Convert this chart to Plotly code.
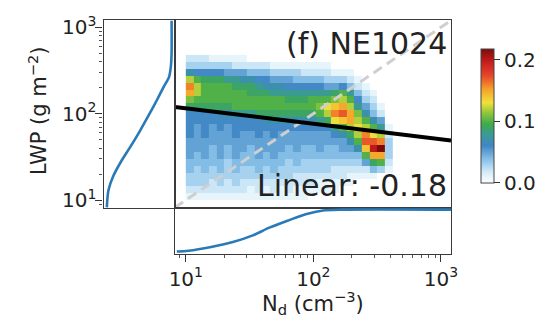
import numpy as np
import plotly.graph_objects as go

# ---------------- data ----------------
# log10 bin edges of the joint histogram
nd_edges_log = [round(1.00 + 0.06 * i, 2) for i in range(28)]     # N_d bins
lwp_edges_log = [round(1.00 + 0.08 * j, 2) for j in range(22)]    # LWP bins

# conditional frequency of LWP per N_d bin (percent); one list per N_d bin,
# ordered from the lowest LWP bin to the highest
pdf_columns_pct = [
    [1, 2, 3, 3, 4, 4, 5, 5, 5, 6, 6, 6, 6, 9, 11, 15, 16, 12, 7, 3, 2],
    [1, 2, 3, 3, 3, 4, 4, 5, 5, 5, 5, 6, 6, 9, 10, 12, 12, 10, 6, 3, 2],
    [1, 2, 3, 3, 4, 4, 5, 5, 5, 6, 6, 6, 6, 9, 10, 10, 10, 9, 6, 3, 2],
    [1, 2, 2, 3, 3, 4, 4, 4, 5, 5, 5, 6, 6, 9, 10, 10, 10, 9, 6, 3, 1],
    [1, 2, 3, 3, 4, 4, 5, 5, 5, 5, 6, 6, 7, 9, 10, 10, 10, 9, 6, 3, 1],
    [1, 2, 2, 3, 3, 3, 4, 4, 5, 5, 5, 6, 7, 9, 10, 10, 10, 8, 5, 3, 1],
    [1, 2, 3, 3, 4, 4, 5, 5, 5, 6, 6, 6, 8, 10, 10, 10, 9, 8, 5, 2, 1],
    [1, 2, 2, 3, 3, 4, 4, 5, 5, 5, 6, 6, 8, 10, 10, 10, 9, 7, 5, 2, 1],
    [1, 1, 2, 3, 3, 4, 4, 4, 5, 5, 6, 6, 8, 10, 10, 9, 9, 7, 4, 2, 0],
    [1, 2, 2, 3, 4, 4, 5, 5, 5, 6, 6, 6, 9, 10, 10, 9, 8, 6, 4, 2, 0],
    [1, 1, 2, 3, 3, 4, 4, 5, 5, 5, 6, 7, 9, 10, 10, 9, 7, 6, 4, 2, 0],
    [1, 2, 2, 3, 4, 4, 5, 5, 5, 6, 6, 7, 9, 10, 10, 8, 7, 5, 3, 1, 0],
    [1, 1, 2, 3, 3, 4, 4, 5, 5, 5, 6, 7, 9, 10, 10, 8, 7, 5, 3, 1, 0],
    [1, 2, 2, 3, 3, 3, 4, 4, 5, 5, 6, 7, 9, 10, 9, 8, 6, 5, 3, 1, 0],
    [1, 1, 2, 2, 3, 4, 4, 5, 5, 5, 6, 7, 9, 10, 9, 8, 6, 4, 3, 1, 0],
    [1, 1, 2, 2, 3, 3, 4, 4, 5, 5, 6, 7, 9, 10, 9, 8, 6, 4, 2, 1, 0],
    [0, 1, 2, 2, 3, 3, 4, 4, 5, 5, 6, 7, 9, 10, 10, 8, 6, 4, 2, 1, 0],
    [0, 1, 1, 2, 3, 3, 4, 5, 5, 5, 6, 8, 10, 11, 10, 8, 6, 4, 2, 1, 0],
    [0, 1, 1, 2, 3, 3, 4, 4, 5, 5, 6, 9, 12, 13, 10, 8, 5, 3, 2, 1, 0],
    [0, 1, 1, 2, 2, 3, 4, 4, 5, 6, 8, 13, 16, 14, 11, 9, 5, 3, 1, 0, 0],
    [0, 0, 1, 2, 2, 3, 4, 5, 5, 7, 10, 14, 17, 15, 12, 10, 6, 3, 1, 0, 0],
    [0, 0, 1, 1, 2, 3, 4, 5, 7, 9, 12, 15, 15, 12, 10, 8, 4, 2, 1, 0, 0],
    [0, 0, 0, 1, 2, 3, 4, 7, 10, 12, 13, 12, 11, 8, 6, 4, 2, 1, 0, 0, 0],
    [0, 0, 0, 1, 2, 5, 10, 14, 17, 16, 12, 10, 7, 5, 3, 2, 1, 0, 0, 0, 0],
    [0, 0, 0, 1, 4, 9, 15, 20, 17, 13, 10, 7, 4, 3, 2, 1, 0, 0, 0, 0, 0],
    [0, 0, 0, 0, 3, 10, 15, 22, 16, 12, 8, 5, 2, 1, 0, 0, 0, 0, 0, 0, 0],
    [0, 0, 0, 0, 1, 2, 3, 3, 3, 2, 1, 0, 0, 0, 0, 0, 0, 0, 0, 0, 0],
]

# cumulative distribution of LWP (left margin)
lwp_cdf_lwp = [8.2, 13, 19, 28, 41, 63, 100, 147, 206, 265, 360, 500, 1200]
lwp_cdf_val = [0.0, 0.025, 0.10, 0.22, 0.36, 0.51, 0.66, 0.78, 0.88, 0.96, 0.99, 1.0, 1.0]

# cumulative distribution of N_d (bottom margin)
nd_cdf_nd = [8.5, 10.5, 15.8, 23.4, 33.5, 45.2, 64.6, 87, 119, 170, 1200]
nd_cdf_val = [0.0, 0.02, 0.11, 0.225, 0.385, 0.57, 0.75, 0.89, 0.98, 1.0, 1.0]

# log-log regression: LWP = fit_coef * N_d ** fit_slope
fit_slope = -0.18
fit_coef = 175.0

panel_label = "(f) NE1024"
axis_lo, axis_hi = 8.2, 1200.0
major_ticks = [10, 100, 1000]
major_text = ["10<sup>1</sup>", "10<sup>2</sup>", "10<sup>3</sup>"]
minor_ticks = [m * d for d in (1, 10, 100) for m in range(2, 10)]

# ---------------- figure ----------------
W, H = 539, 321


def px_x(p):
    return p / W


def px_y(p):
    return 1 - p / H


main_x = [px_x(173), px_x(456)]
main_y = [px_y(208), px_y(13)]
left_x = [px_x(100), px_x(173)]
bot_y = [px_y(256), px_y(208)]

log_range = [np.log10(axis_lo), np.log10(axis_hi)]

colorscale = [
    [0.00, "#ffffff"],
    [0.08, "#d4ebf8"],
    [0.17, "#8cc3ea"],
    [0.28, "#3f86c4"],
    [0.36, "#3a9a98"],
    [0.44, "#3dab4a"],
    [0.52, "#8cc53c"],
    [0.60, "#f2e03a"],
    [0.70, "#f6a02a"],
    [0.80, "#e6462a"],
    [0.90, "#c81e1e"],
    [1.00, "#7f0a0a"],
]

z = np.array(pdf_columns_pct, dtype=float).T / 100.0
nd_edges = [10 ** v for v in nd_edges_log]
lwp_edges = [10 ** v for v in lwp_edges_log]

fig = go.Figure()

fig.add_trace(go.Heatmap(
    x=nd_edges, y=lwp_edges, z=z,
    zmin=0.0, zmax=0.218, colorscale=colorscale,
    xaxis="x", yaxis="y", hoverinfo="skip",
    colorbar=dict(
        x=px_x(487), xanchor="left", xpad=0,
        y=px_y(182), yanchor="bottom", ypad=0,
        len=(182 - 42) / H, lenmode="fraction",
        thickness=13, outlinecolor="#444444", outlinewidth=1,
        tickvals=[0.0, 0.1, 0.2], ticktext=["0.0", "0.1", "0.2"],
        ticks="outside", ticklen=6, tickcolor="#333333",
        tickfont=dict(family="DejaVu Sans", size=20, color="#222222"),
    ),
))

# one-to-one reference line
fig.add_trace(go.Scatter(
    x=[axis_lo, axis_hi], y=[axis_lo, axis_hi], mode="lines",
    line=dict(color="#cfcfcf", width=3, dash="10px,6px"),
    xaxis="x", yaxis="y", hoverinfo="skip", showlegend=False,
))

# regression line
fit_x = [axis_lo, axis_hi]
fit_y = [fit_coef * v ** fit_slope for v in fit_x]
fig.add_trace(go.Scatter(
    x=fit_x, y=fit_y, mode="lines",
    line=dict(color="#000000", width=4),
    xaxis="x", yaxis="y", hoverinfo="skip", showlegend=False,
))

# marginal cumulative distributions
fig.add_trace(go.Scatter(
    x=lwp_cdf_val, y=lwp_cdf_lwp, mode="lines",
    line=dict(color="#2a7ab8", width=2.6, shape="spline", smoothing=0.8),
    xaxis="x2", yaxis="y2", hoverinfo="skip", showlegend=False,
))
fig.add_trace(go.Scatter(
    x=nd_cdf_nd, y=nd_cdf_val, mode="lines",
    line=dict(color="#2a7ab8", width=2.6, shape="spline", smoothing=0.8),
    xaxis="x3", yaxis="y3", hoverinfo="skip", showlegend=False,
))

frame = dict(showline=True, mirror=True, linecolor="#3a3a3a", linewidth=1.3,
             showgrid=False, zeroline=False)
tickfont = dict(family="DejaVu Sans", size=20, color="#222222")
minor_style = dict(tickmode="array", tickvals=minor_ticks, ticks="outside",
                   ticklen=3.5, tickwidth=1, tickcolor="#555555")

fig.update_layout(
    width=W, height=H,
    margin=dict(l=0, r=0, t=0, b=0),
    paper_bgcolor="white", plot_bgcolor="white",
    showlegend=False,
    xaxis=dict(domain=main_x, anchor="y", type="log", range=log_range,
               showticklabels=False, ticks="", **frame),
    yaxis=dict(domain=main_y, anchor="x", type="log", range=log_range,
               showticklabels=False, ticks="", **frame),
    xaxis2=dict(domain=left_x, anchor="y2", range=[-0.05, 1.05],
                showticklabels=False, ticks="", **frame),
    yaxis2=dict(domain=main_y, anchor="x2", type="log", range=log_range,
                tickmode="array", tickvals=major_ticks, ticktext=major_text,
                ticks="outside", ticklen=7, tickwidth=1.2, tickcolor="#333333",
                ticklabelstandoff=-5,
                tickfont=tickfont, minor=minor_style, **frame),
    xaxis3=dict(domain=main_x, anchor="y3", type="log", range=log_range,
                tickmode="array", tickvals=major_ticks, ticktext=major_text,
                ticks="outside", ticklen=7, tickwidth=1.2, tickcolor="#333333",
                tickfont=tickfont, minor=minor_style, **frame),
    yaxis3=dict(domain=bot_y, anchor="x3", range=[-0.05, 1.05],
                showticklabels=False, ticks="", **frame),
)

annot_font = dict(family="DejaVu Sans", size=30, color="#222222")
title_font = dict(family="DejaVu Sans", size=21, color="#222222")
fig.add_annotation(text=panel_label, xref="paper", yref="paper",
                   x=px_x(454), y=px_y(37.5), xanchor="right", yanchor="middle",
                   showarrow=False, font=annot_font)
fig.add_annotation(text=f"Linear: {fit_slope:.2f}", xref="paper", yref="paper",
                   x=px_x(454), y=px_y(184.5), xanchor="right", yanchor="middle",
                   showarrow=False, font=annot_font)
fig.add_annotation(text="LWP (g m<sup>\u22122</sup>)", xref="paper", yref="paper",
                   x=px_x(32), y=px_y(107), xanchor="center", yanchor="middle",
                   textangle=-90, showarrow=False, font=title_font)
fig.add_annotation(text="N<sub>d</sub> (cm<sup>\u22123</sup>)", xref="paper", yref="paper",
                   x=px_x(315), y=px_y(307), xanchor="center", yanchor="middle",
                   showarrow=False, font=title_font)

fig.write_html("out.html")
